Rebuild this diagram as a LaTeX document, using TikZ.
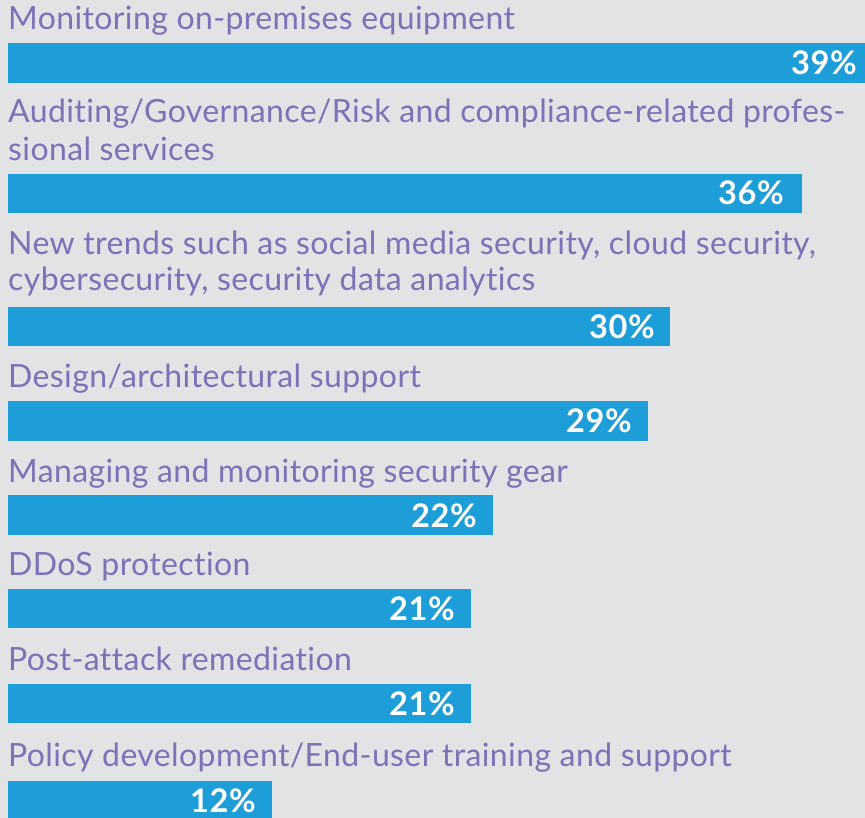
\documentclass[tikz,border=0pt]{standalone}
\usepackage{fontspec}
\setmainfont{Lato}[Ligatures=NoCommon]
\newfontfamily\labfont{Lato}[Ligatures=NoCommon,LetterSpace=1.2]
\newfontfamily\pctfont{Lato}[LetterSpace=2]
\definecolor{bgc}{HTML}{E2E3E5}
\definecolor{barc}{HTML}{1E9ED8}
\definecolor{txtc}{HTML}{7A73B7}
\begin{document}
\begin{tikzpicture}[x=1pt,y=-1pt,
  lab/.style={anchor=base west,inner sep=0pt,text=txtc,font=\labfont\fontsize{32}{37}\selectfont},
  barbox/.style={fill=barc,draw=none},
  pct/.style={anchor=base east,inner sep=0pt,text=white,font=\pctfont\fontsize{32.5}{36}\selectfont\bfseries}]
\fill[bgc] (0,0) rectangle (865,818);
\useasboundingbox (0,0) rectangle (865,818);
\clip (0,0) rectangle (865,818);
% 1
\node[lab] (l1) at (8,30) {Monitoring on-premises equipment};
\fill[barbox] (8,43) rectangle (870,83);
\node[pct] (p1) at (857,75) {39\%};
% 2
\node[lab] (l2a) at (8,123) {Auditing/Governance/Risk and compliance-related profes-};
\node[lab] (l2b) at (8,161) {sional services};
\fill[barbox] (8,174) rectangle (802,213);
\node[pct] (p2) at (784,205) {36\%};
% 3
\node[lab] (l3a) at (8,255) {New trends such as social media security, cloud security,};
\node[lab] (l3b) at (8,291) {cybersecurity, security data analytics};
\fill[barbox] (8,307) rectangle (670,346);
\node[pct] (p3) at (655,338) {30\%};
% 4
\node[lab] (l4) at (8,387) {Design/architectural support};
\fill[barbox] (8,401) rectangle (648,441);
\node[pct] (p4) at (632,432) {29\%};
% 5
\node[lab] (l5) at (8,482) {Managing and monitoring security gear};
\fill[barbox] (8,495) rectangle (493,535);
\node[pct] (p5) at (477,527) {22\%};
% 6
\node[lab] (l6) at (8,575) {DDoS protection};
\fill[barbox] (8,589) rectangle (471,628);
\node[pct] (p6) at (455,620) {21\%};
% 7
\node[lab] (l7) at (8,670) {Post-attack remediation};
\fill[barbox] (8,684) rectangle (471,723);
\node[pct] (p7) at (455,715) {21\%};
% 8
\node[lab] (l8) at (8,766) {Policy development/End-user training and support};
\fill[barbox] (8,781) rectangle (272,820);
\node[pct] (p8) at (256,812) {12\%};
\end{tikzpicture}
\end{document}
